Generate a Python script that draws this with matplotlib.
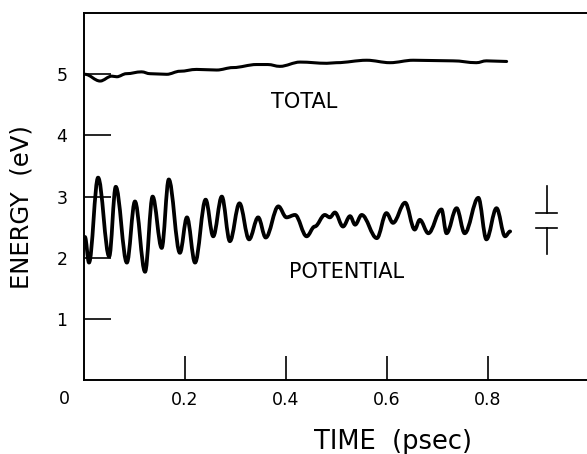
import matplotlib
matplotlib.use('Agg')
import matplotlib.pyplot as plt
from matplotlib.path import Path
from matplotlib.patches import PathPatch

plt.rcParams['font.family'] = ['DejaVu Sans']

# total energy (eV) vs time (psec)
t_total = [0.002, 0.032, 0.055, 0.065, 0.084, 0.114, 0.131, 0.164, 0.190, 0.223,
           0.263, 0.295, 0.342, 0.364, 0.388, 0.428, 0.481, 0.500, 0.560, 0.606,
           0.652, 0.731, 0.777, 0.797, 0.837]
e_total = [5.00, 4.89, 4.97, 4.96, 5.01, 5.04, 5.01, 5.00, 5.05, 5.08,
           5.07, 5.11, 5.16, 5.16, 5.13, 5.20, 5.18, 5.19, 5.23, 5.19,
           5.23, 5.22, 5.19, 5.22, 5.21]

# potential energy (eV) vs time (psec), read at the turning points
t_pot = [0.002, 0.010, 0.028, 0.050, 0.063, 0.085, 0.101, 0.121, 0.136, 0.154,
         0.168, 0.190, 0.204, 0.220, 0.241, 0.256, 0.273, 0.289, 0.308, 0.327,
         0.345, 0.360, 0.385, 0.401, 0.418, 0.441, 0.457, 0.477, 0.487, 0.497,
         0.513, 0.527, 0.537, 0.550, 0.580, 0.599, 0.612, 0.636, 0.655, 0.665,
         0.682, 0.708, 0.718, 0.738, 0.754, 0.781, 0.797, 0.817, 0.834, 0.844]
e_pot = [2.34, 1.92, 3.31, 2.02, 3.16, 1.92, 2.92, 1.77, 3.00, 2.16,
         3.28, 2.08, 2.66, 1.92, 2.95, 2.35, 3.00, 2.27, 2.89, 2.30,
         2.66, 2.33, 2.84, 2.66, 2.70, 2.35, 2.51, 2.70, 2.66, 2.74,
         2.51, 2.68, 2.54, 2.70, 2.32, 2.73, 2.57, 2.90, 2.46, 2.62,
         2.40, 2.79, 2.40, 2.81, 2.40, 2.98, 2.30, 2.81, 2.35, 2.43]

x_ticks = [0.2, 0.4, 0.6, 0.8]
y_ticks = [1, 2, 3, 4, 5]

# error-bar style marker on the right
bar_x = 0.916
bar_half = 0.02
bar_up = (2.73, 3.17)
bar_dn = (2.06, 2.49)


def smooth_path(xs, ys):
    # bezier through the points, flat at each point (they are turning points)
    verts = [(xs[0], ys[0])]
    codes = [Path.MOVETO]
    for i in range(len(xs) - 1):
        dx = (xs[i + 1] - xs[i]) * 0.36
        verts += [(xs[i] + dx, ys[i]), (xs[i + 1] - dx, ys[i + 1]), (xs[i + 1], ys[i + 1])]
        codes += [Path.CURVE4] * 3
    return Path(verts, codes)


fig = plt.figure(figsize=(5.87, 4.54), dpi=100)
ax = fig.add_axes([0.143, 0.163, 0.8603, 0.808])

ax.add_patch(PathPatch(smooth_path(t_total, e_total), fill=False, ec='black', lw=2.2,
                       capstyle='round', joinstyle='round'))
ax.add_patch(PathPatch(smooth_path(t_pot, e_pot), fill=False, ec='black', lw=2.7,
                       capstyle='round', joinstyle='round'))

ax.plot([bar_x, bar_x], bar_up, color='black', lw=1.2)
ax.plot([bar_x - bar_half, bar_x + bar_half], [bar_up[0]] * 2, color='black', lw=1.2)
ax.plot([bar_x, bar_x], bar_dn, color='black', lw=1.2)
ax.plot([bar_x - bar_half, bar_x + bar_half], [bar_dn[1]] * 2, color='black', lw=1.2)

ax.set_xlim(0, 1.0)
ax.set_ylim(0, 6)
ax.spines['right'].set_visible(False)
for s in ['left', 'top', 'bottom']:
    ax.spines[s].set_linewidth(1.4)

ax.set_xticks(x_ticks)
ax.set_xticklabels(['0.2', '0.4', '0.6', '0.8'])
ax.set_yticks(y_ticks)
ax.set_yticklabels(['1', '2', '3', '4', '5'])
ax.tick_params(axis='x', direction='in', length=17, width=1.2, pad=8, labelsize=12.5)
ax.tick_params(axis='y', direction='in', length=19.5, width=1.2, pad=12, labelsize=12.5)

ax.text(-0.038, -0.31, '0', ha='center', va='center', fontsize=12.5, clip_on=False)

ax.text(0.436, 4.54, 'TOTAL', ha='center', va='center', fontsize=15)
ax.text(0.521, 1.77, 'POTENTIAL', ha='center', va='center', fontsize=15)

fig.text(22 / 587, 1 - 207 / 454, 'ENERGY  (eV)', rotation=90, ha='center', va='center', fontsize=17.5)
fig.text(393 / 587, 1 - 442 / 454, 'TIME  (psec)', ha='center', va='center', fontsize=18.5)

fig.savefig('out.png', dpi=100)
